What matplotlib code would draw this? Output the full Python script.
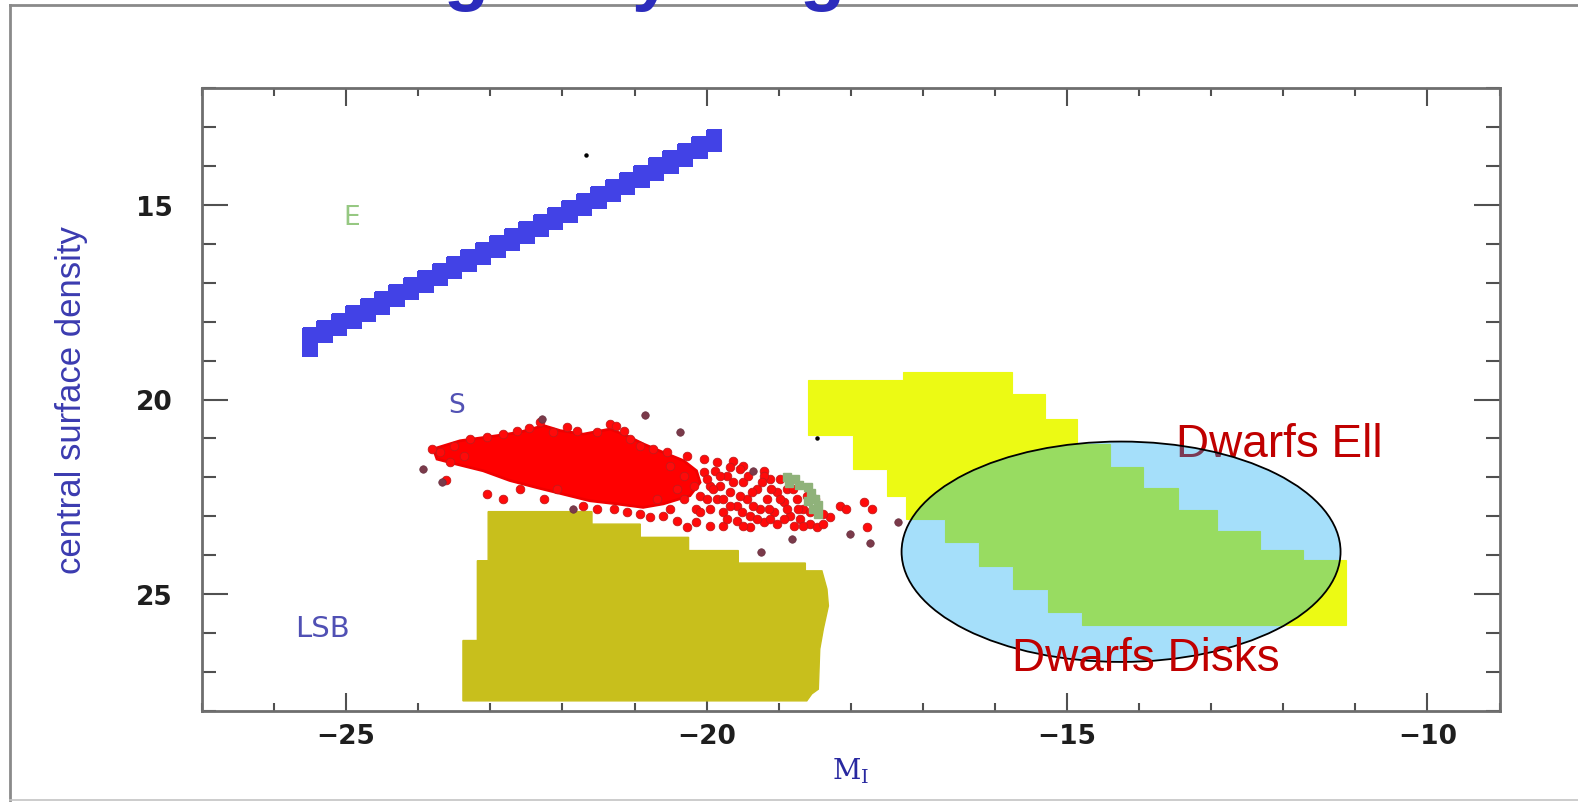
import numpy as np
import matplotlib
matplotlib.use('Agg')
import matplotlib.pyplot as plt
from matplotlib.patches import Polygon, Ellipse
from matplotlib.path import Path
from matplotlib.lines import Line2D
from matplotlib.colors import ListedColormap
from matplotlib.ticker import MultipleLocator

plt.rcParams['mathtext.fontset'] = 'dejavuserif'

# --- regiones del diagrama (M_I, densidad superficial central) ---

# elipticas: banda estrecha
e_band_x = [-25.59, -19.88, -19.88, -25.59]
e_band_y = [18.27, 13.10, 13.65, 18.87]

# enanas (amarillo)
yellow_x = [-18.59, -17.27, -17.27, -15.76, -15.76, -15.30, -15.30, -14.86, -14.86, -14.40,
            -14.40, -13.95, -13.95, -13.46, -13.46, -12.92, -12.92, -12.32, -12.32, -11.73,
            -11.73, -11.13, -11.13, -14.79, -14.79, -15.26, -15.26, -15.75, -15.75, -16.22,
            -16.22, -16.69, -16.69, -17.23, -17.23, -17.50, -17.50, -17.97, -17.97, -18.59]
yellow_y = [19.50, 19.50, 19.29, 19.29, 19.86, 19.86, 20.50, 20.50, 21.14, 21.14,
            21.73, 21.73, 22.27, 22.27, 22.84, 22.84, 23.38, 23.38, 23.86, 23.86,
            24.12, 24.12, 25.80, 25.80, 25.46, 25.46, 24.87, 24.87, 24.28, 24.28,
            23.66, 23.66, 23.07, 23.07, 22.48, 22.48, 21.78, 21.78, 20.91, 20.91]

# LSB
lsb_x = [-23.03, -21.59, -21.59, -20.92, -20.92, -20.25, -20.25, -19.56, -19.56, -18.63,
         -18.63, -18.40, -18.33, -18.31, -18.38, -18.43, -18.45, -18.54, -18.61, -23.38,
         -23.38, -23.18, -23.18, -23.03]
lsb_y = [22.88, 22.88, 23.20, 23.20, 23.54, 23.54, 23.88, 23.88, 24.20, 24.20,
         24.40, 24.40, 24.87, 25.30, 25.89, 26.41, 27.44, 27.56, 27.74, 27.74,
         26.19, 26.19, 24.14, 24.14]

# espirales: nucleo denso + puntos sueltos
s_core_x = [-23.79, -23.42, -22.91, -22.59, -22.26, -22.03, -21.71, -21.34, -21.11, -20.88,
            -20.60, -20.32, -20.14, -20.09, -20.23, -20.60, -20.88, -21.25, -21.62, -21.99,
            -22.36, -22.73, -23.10, -23.47, -23.74]
s_core_y = [21.27, 21.06, 20.93, 20.84, 20.67, 20.80, 20.89, 20.76, 20.93, 21.14,
            21.36, 21.57, 21.83, 22.13, 22.47, 22.68, 22.77, 22.68, 22.60, 22.43,
            22.26, 22.08, 21.83, 21.66, 21.53]

s_dots_x = [-23.61, -23.81, -23.70, -23.51, -23.56, -23.37,
            -23.28, -23.05, -22.82, -22.63, -22.47, -22.31, -22.13, -21.94, -21.80, -21.52,
            -21.34, -21.25, -21.15, -21.06, -20.92, -20.74, -20.55, -20.27, -20.04, -19.86,
            -19.63, -19.49, -19.21, -19.12, -18.98,
            -23.05, -22.82, -22.59, -22.26, -22.08, -21.71, -21.52, -21.29, -21.11, -20.92,
            -20.78, -20.60, -20.41, -20.27, -20.14, -19.95, -19.77, -19.58, -19.40, -19.21,
            -19.03, -18.79, -18.56, -18.47,
            -20.51, -20.32, -20.18, -20.04, -19.95, -19.86, -19.72, -19.67, -19.58, -19.49,
            -19.44, -19.30, -19.26, -19.16, -19.07, -19.03, -18.93, -18.84, -18.75, -18.66,
            -19.21, -19.54, -19.77, -19.95, -20.14, -20.32, -20.41, -20.51, -20.69, -20.09,
            -19.81, -19.40, -18.89, -18.70, -18.61, -19.67,
            -20.00, -19.88, -19.77, -19.63, -19.54, -19.42, -19.35, -19.23, -19.14, -19.10,
            -18.98, -18.89, -18.80, -18.73, -18.56, -18.49, -19.72, -19.51, -19.30, -19.12,
            -18.93, -20.09, -20.00, -19.91, -19.67, -19.37, -19.49, -18.66, -18.38, -19.81,
            -18.15, -18.06, -17.82, -17.71, -17.78, -18.29, -18.38]
s_dots_y = [22.08, 21.27, 21.36, 21.19, 21.61, 21.44,
            21.01, 20.97, 20.89, 20.80, 20.74, 20.59, 20.84, 20.71, 20.80, 20.84,
            20.63, 20.67, 20.80, 21.01, 21.19, 21.27, 21.36, 21.44, 21.53, 21.61,
            21.57, 21.70, 21.83, 22.04, 22.04,
            22.43, 22.56, 22.30, 22.56, 22.30, 22.73, 22.81, 22.81, 22.90, 22.94,
            23.03, 22.98, 23.11, 23.28, 23.15, 23.24, 23.24, 23.11, 23.28, 23.15,
            23.20, 23.24, 23.20, 23.28,
            21.70, 21.96, 22.21, 21.87, 22.21, 22.56, 21.96, 22.38, 22.73, 22.13,
            22.56, 22.30, 22.81, 22.56, 22.90, 22.38, 22.64, 22.98, 22.56, 22.81,
            21.96, 21.79, 22.90, 22.81, 22.81, 22.56, 22.30, 22.81, 22.56, 22.47,
            22.21, 22.98, 22.30, 23.07, 22.47, 21.74,
            22.04, 21.83, 22.56, 22.13, 22.47, 21.96, 22.73, 22.13, 22.81, 22.30,
            22.56, 22.81, 22.30, 22.81, 22.90, 22.56, 23.07, 22.90, 23.07, 23.07,
            23.07, 22.90, 22.56, 22.30, 22.73, 22.38, 23.24, 23.24, 23.20, 21.96,
            22.73, 22.81, 22.64, 22.81, 23.28, 23.03, 22.94]

s_dark_x = [-23.93, -23.67, -22.29, -20.85, -20.37, -19.35, -21.85, -18.01, -17.73, -18.82, -17.34, -19.24]
s_dark_y = [21.79, 22.13, 20.50, 20.41, 20.83, 21.83, 22.81, 23.46, 23.69, 23.58, 23.15, 23.92]

# pequeño grupo verde-gris al final de las espirales
green_x = [-18.88, -18.78, -18.72, -18.85, -18.60, -18.55, -18.50, -18.45, -18.52, -18.45, -18.60]
green_y = [21.98, 22.05, 22.20, 22.15, 22.25, 22.40, 22.55, 22.70, 22.80, 22.95, 22.60]

black_x = [-21.67, -18.47]
black_y = [13.72, 20.99]

# elipse que marca las enanas
dwarf_center = (-14.25, 23.91)
dwarf_width = 6.09
dwarf_height = 5.66

W, H = 1578, 803
fig = plt.figure(figsize=(W / 100, H / 100), dpi=100)
fig.patch.set_facecolor('white')
ax = fig.add_axes([202 / W, 91 / H, 1297.5 / W, 623 / H])
ax.set_xlim(-27, -9)
ax.set_ylim(28, 12)

# banda E rasterizada en celdas (como el histograma original)
xe = np.arange(-27, -9 + 1e-9, 0.2)
ye = np.arange(12, 28 + 0.2, 0.181)
xc = 0.5 * (xe[1:] + xe[:-1])
yc = 0.5 * (ye[1:] + ye[:-1])
XX, YY = np.meshgrid(xc, yc)
band = Path(np.column_stack([e_band_x, e_band_y]))
inside = band.contains_points(np.column_stack([XX.ravel(), YY.ravel()])).reshape(XX.shape)
Z = np.ma.masked_where(~inside, np.ones_like(XX))
ax.pcolormesh(xe, ye, Z, cmap=ListedColormap(['#4242e6']), shading='flat',
              edgecolors='face', linewidth=0.3, zorder=2)

ax.add_patch(Polygon(np.column_stack([lsb_x, lsb_y]), closed=True,
                     fc='#c8bf1c', ec='#c8bf1c', lw=1, zorder=2))
ax.add_patch(Polygon(np.column_stack([yellow_x, yellow_y]), closed=True,
                     fc='#ecfa14', ec='#ecfa14', lw=0.8, zorder=2))

ax.add_patch(Polygon(np.column_stack([s_core_x, s_core_y]), closed=True,
                     fc='#ff0000', ec='#f00000', lw=2, zorder=3))
ax.plot(s_dots_x, s_dots_y, 'o', ms=6.2, mfc='#ff0a0a', mec='#c41a1a', mew=0.6, zorder=4)
ax.plot(s_dark_x, s_dark_y, 'o', ms=5.4, mfc='#7a3a4a', mec='#6a3040', mew=0.5, zorder=4)
ax.plot(green_x, green_y, 's', ms=5.5, mfc='#8fb27a', mec='#8fb27a', zorder=5)
ax.plot(black_x, black_y, 'o', ms=2.2, color='black', zorder=5)

# etiquetas internas
ax.text(-25.04, 15.49, 'E', fontsize=19, color='#96c882', family='DejaVu Sans',
        ha='left', va='baseline', zorder=6)
ax.text(-23.59, 20.32, 'S', fontsize=19, color='#5252b4', family='DejaVu Sans',
        ha='left', va='baseline', zorder=6)
ax.text(-25.71, 26.07, 'LSB', fontsize=21, color='#5050b4', family='DejaVu Sans',
        ha='left', va='baseline', zorder=6)

ax.text(-13.49, 21.45, 'Dwarfs Ell', fontsize=33, color='#c00000',
        family='Liberation Sans', ha='left', va='baseline', zorder=6)
ax.add_patch(Ellipse(dwarf_center, dwarf_width, dwarf_height,
                     fc=(0.0, 0.655, 0.945, 0.353), ec='black', lw=1.3, zorder=7))
ax.text(-15.76, 26.95, 'Dwarfs Disks', fontsize=33, color='#c00000',
        family='Liberation Sans', ha='left', va='baseline', zorder=8)

# ejes estilo pgplot
for s in ax.spines.values():
    s.set_color('#6e6e6e')
    s.set_linewidth(2.0)
ax.xaxis.set_major_locator(MultipleLocator(5))
ax.xaxis.set_minor_locator(MultipleLocator(1))
ax.yaxis.set_major_locator(MultipleLocator(5))
ax.yaxis.set_minor_locator(MultipleLocator(1))
ax.tick_params(which='both', direction='in', top=True, right=True,
               color='#505050', width=1.5, labelcolor='#1e1e1e')
ax.tick_params(axis='x', which='major', length=13, pad=9)
ax.tick_params(axis='x', which='minor', length=6)
ax.tick_params(axis='y', which='major', length=19, pad=21)
ax.tick_params(axis='y', which='minor', length=10)
for lab in ax.get_xticklabels() + ax.get_yticklabels():
    lab.set_fontsize(19)
    lab.set_fontweight('bold')
    lab.set_family('DejaVu Sans')

ax.set_xlabel(r'M$_{\rm I}$', fontsize=20, color='#2828a0', family='DejaVu Serif')
ax.xaxis.set_label_coords(0.5, -0.072)
ax.set_ylabel('central surface density', fontsize=25, color='#3b3bb0',
              family='Liberation Sans')
ax.yaxis.set_label_coords(-0.088, 0.5)

# marco de la diapositiva y titulo (solo asoman los trazos inferiores)
fig.add_artist(Line2D([10 / W, 1], [1 - 6 / H, 1 - 6 / H], transform=fig.transFigure,
                      color='#8a8a8a', lw=2))
fig.add_artist(Line2D([10 / W, 10 / W], [1 - 6 / H, 2 / H], transform=fig.transFigure,
                      color='#8a8a8a', lw=2))
fig.add_artist(Line2D([10 / W, 1], [2 / H, 2 / H], transform=fig.transFigure,
                      color='#c4c4c4', lw=1.2))
fig.text(219 / W, 1 + 3.5 / H, 'Dwarf galaxy diagram', fontsize=53, fontweight='bold',
         color='#2c2cbc', family='Liberation Sans', ha='left', va='baseline', zorder=10)

fig.savefig('out.png', dpi=100)
